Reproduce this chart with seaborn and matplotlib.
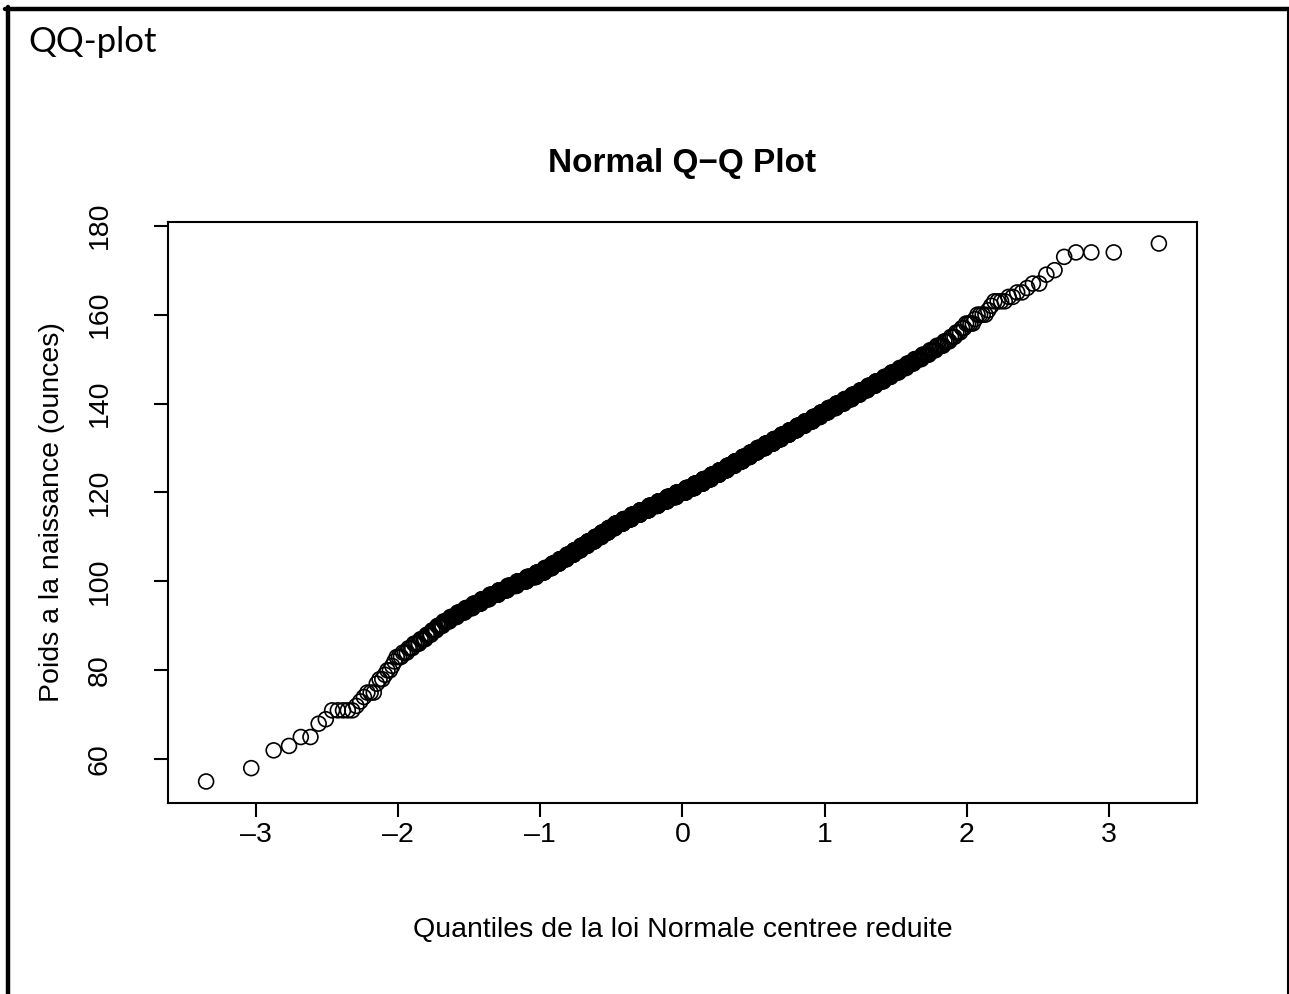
import statistics

import matplotlib
matplotlib.use("Agg")
import matplotlib.pyplot as plt
from matplotlib.lines import Line2D
import numpy as np
import seaborn as sns

# Birth weights (ounces): distinct values and how many babies had each
weight_values = [
    55, 58, 62, 63, 65, 68, 69, 71, 72, 73, 74, 75, 77, 78, 79, 80, 81, 82,
    83, 84, 85, 86, 87, 88, 89, 90,
    91, 92, 93, 94, 95, 96, 97, 98, 99, 100, 101,
    102, 103, 104, 105, 106, 107, 108, 109, 110, 111, 112,
    113, 114, 115, 116, 117, 118, 119, 120,
    121, 122, 123, 124, 125, 126, 127, 128, 129,
    130, 131, 132, 133, 134, 135, 136, 137, 138,
    139, 140, 141, 142, 143, 144, 145, 146, 147,
    148, 149, 150, 151, 152, 153, 154, 155, 156, 157,
    158, 159, 160, 161, 162, 163, 164, 165, 166, 167, 169, 170, 173, 174, 176,
]
weight_counts = [
    1, 1, 1, 1, 2, 1, 1, 5, 1, 1, 1, 3, 1, 2, 1, 2, 1, 1,
    3, 3, 3, 4, 4, 4, 4, 5,
    6, 7, 8, 9, 10, 11, 13, 14, 16, 18, 19,
    17, 17, 17, 18, 18, 18, 19, 20, 20, 20, 21,
    25, 27, 28, 30, 31, 31, 32, 33,
    30, 29, 28, 27, 26, 25, 25, 24, 22,
    24, 23, 22, 21, 20, 19, 19, 17, 16,
    16, 15, 14, 13, 12, 11, 11, 9, 9,
    8, 7, 7, 6, 5, 5, 4, 3, 3, 2,
    4, 1, 4, 1, 1, 4, 2, 2, 1, 2, 1, 1, 1, 3, 1,
]

x_ticks = [-3, -2, -1, 0, 1, 2, 3]
y_ticks = [60, 80, 100, 120, 140, 160, 180]

page_title = "QQ-plot"
plot_title = "Normal Q\u2212Q Plot"
x_label = "Quantiles de la loi Normale centree reduite"
y_label = "Poids a la naissance (ounces)"

# Sorted sample against standard normal quantiles at plotting positions (i - 0.5) / n
sample = np.sort(np.repeat(weight_values, weight_counts))
n = len(sample)
probs = (np.arange(1, n + 1) - 0.5) / n
normal = statistics.NormalDist()
theoretical = np.array([normal.inv_cdf(p) for p in probs])

sns.set_theme(style="ticks")
plt.rcParams["font.family"] = ["Liberation Sans", "DejaVu Sans"]
plt.rcParams["text.color"] = "black"
plt.rcParams["axes.labelcolor"] = "black"

W, H = 1289, 994
fig = plt.figure(figsize=(W / 100, H / 100), dpi=100)
fig.patch.set_facecolor("white")

ax_left, ax_right, ax_top, ax_bottom = 168, 1197, 222, 803
ax = fig.add_axes([ax_left / W, 1 - ax_bottom / H,
                   (ax_right - ax_left) / W, (ax_bottom - ax_top) / H])
ax.set_facecolor("white")

sns.scatterplot(x=theoretical, y=sample, ax=ax, marker="o", s=115,
                facecolor="none", edgecolor="black", linewidth=1.2,
                legend=False)

ax.margins(0.04)
ax.set_xticks(x_ticks)
ax.set_yticks(y_ticks)
ax.set_xticklabels([f"{t:d}".replace("-", "\u2013") for t in x_ticks])
ax.set_yticklabels([str(t) for t in y_ticks])

for side in ["left", "right", "top", "bottom"]:
    ax.spines[side].set_visible(True)
    ax.spines[side].set_color("black")
    ax.spines[side].set_linewidth(1.5)

ax.tick_params(axis="both", direction="out", length=10, width=1.5,
               color="black", labelsize=20.5, labelcolor="black")
ax.tick_params(axis="x", pad=4)
ax.tick_params(axis="y", pad=30)
for lbl in ax.get_yticklabels():
    lbl.set_rotation(90)
    lbl.set_va("center")

ax.set_title(plot_title, fontsize=24, fontweight="bold", pad=36, color="black")
ax.set_xlabel(x_label, fontsize=20.5, color="black")
ax.set_ylabel(y_label, fontsize=20.5, color="black")
ax.xaxis.set_label_coords(0.5, -0.196)
ax.yaxis.set_label_coords(-0.100, 0.5)

fig.text(28 / W, 1 - 52 / H, page_title, fontsize=25,
         family=["Lato", "DejaVu Sans"], va="baseline", ha="left",
         color="black")

# Frame lines around the page
fig.add_artist(Line2D([5 / W, 1], [1 - 9 / H, 1 - 9 / H],
                      transform=fig.transFigure, color="black", linewidth=3.2))
fig.add_artist(Line2D([8 / W, 8 / W], [0, 1 - 7 / H],
                      transform=fig.transFigure, color="black", linewidth=3.2))
fig.add_artist(Line2D([1287.5 / W, 1287.5 / W], [0, 1 - 9 / H],
                      transform=fig.transFigure, color="black", linewidth=1.5))

fig.savefig("out.png", dpi=100, facecolor="white")
